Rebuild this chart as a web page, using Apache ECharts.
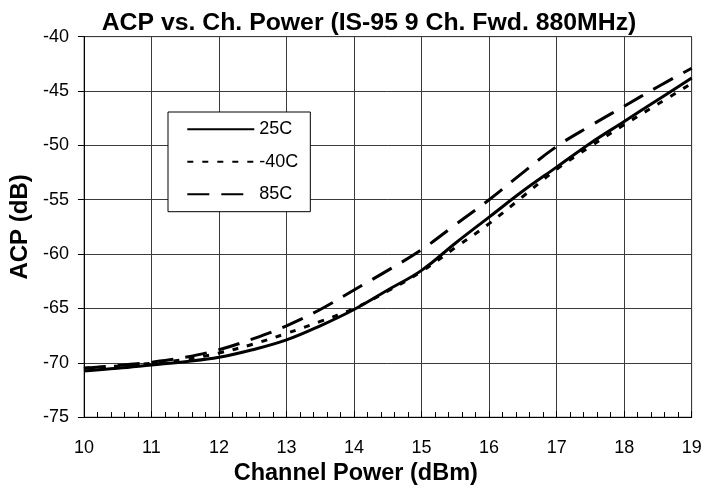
<!DOCTYPE html>
<html>
<head>
<meta charset="utf-8">
<script src="https://cdn.jsdelivr.net/npm/echarts@6/dist/echarts.min.js"></script>
<style>html,body{margin:0;padding:0;background:#fff;}#c{width:722px;height:491px;}</style>
</head>
<body>
<div id="c"></div>
<script>
const power = [10, 10.5, 11, 11.5, 12, 12.5, 13, 13.5, 14, 14.5, 15, 15.5, 16, 16.5, 17, 17.5, 18, 18.5, 19];
const acp25C = [-70.75, -70.5, -70.2, -69.9, -69.5, -68.8, -67.9, -66.6, -65.1, -63.3, -61.5, -59.0, -56.6, -54.2, -52.0, -49.8, -47.8, -45.8, -43.8];
const acpM40C = [-70.5, -70.3, -70.05, -69.7, -69.1, -68.3, -67.3, -66.2, -65.0, -63.4, -61.6, -59.4, -57.2, -54.7, -52.2, -50.1, -48.1, -46.2, -44.3];
const acp85C = [-70.5, -70.25, -69.95, -69.5, -68.8, -67.8, -66.6, -65.1, -63.3, -61.5, -59.6, -57.3, -55.0, -52.5, -50.1, -48.2, -46.4, -44.6, -42.9];
const seriesNames = ['25C', '-40C', '85C'];

const pair = (ys) => power.map((x, i) => [x, ys[i]]);
const font = 'Arial, "Liberation Sans", sans-serif';

const chart = echarts.init(document.getElementById('c'), null, {renderer: 'canvas'});
chart.setOption({
  animation: false,
  backgroundColor: '#fff',
  title: {
    text: 'ACP vs. Ch. Power (IS-95 9 Ch. Fwd. 880MHz)',
    left: 364, top: 6, textAlign: 'center',
    textStyle: {fontFamily: font, fontSize: 24.8, fontWeight: 'bold', color: '#000'}
  },
  grid: {left: 83.3, right: 30.3, top: 36.7, bottom: 73, show: true, borderColor: '#808080', borderWidth: 1, containLabel: false},
  legend: {
    orient: 'vertical', left: 168, top: 112,
    padding: [8.3, 12, 8.4, 18.3],
    itemWidth: 67, itemHeight: 14, itemGap: 14.5,
    borderColor: '#000', borderWidth: 1, backgroundColor: '#fff',
    itemStyle: {opacity: 0},
    textStyle: {fontFamily: font, fontSize: 18, color: '#000'},
    data: seriesNames
  },
  xAxis: {
    type: 'value', min: 10, max: 19, interval: 1,
    name: 'Channel Power (dBm)', nameLocation: 'middle', nameGap: 42,
    nameTextStyle: {fontFamily: font, fontSize: 23.5, fontWeight: 'bold', color: '#000', padding: [0, 64, 0, 0]},
    axisLine: {show: true, onZero: false, lineStyle: {color: '#000', width: 1}},
    axisTick: {show: true, inside: true, length: 6, lineStyle: {color: '#000'}},
    minorTick: {show: true, splitNumber: 5, length: 5, lineStyle: {color: '#000'}},
    axisLabel: {fontFamily: font, fontSize: 18, color: '#000', margin: 22},
    splitLine: {show: true, lineStyle: {color: '#3a3a3a', width: 1}}
  },
  yAxis: {
    type: 'value', min: -75, max: -40, interval: 5,
    name: 'ACP (dB)', nameLocation: 'middle', nameGap: 46,
    nameTextStyle: {fontFamily: font, fontSize: 24, fontWeight: 'bold', color: '#000'},
    axisLine: {show: true, onZero: false, lineStyle: {color: '#000', width: 1}},
    axisTick: {show: true, inside: false, length: 6, lineStyle: {color: '#000'}},
    axisLabel: {fontFamily: font, fontSize: 18, color: '#000', margin: 15},
    splitLine: {show: true, lineStyle: {color: '#3a3a3a', width: 1}}
  },
  series: [
    {name: seriesNames[0], type: 'line', data: pair(acp25C), smooth: 0.4, symbol: 'none',
     lineStyle: {color: '#000', width: 3, type: 'solid'}, itemStyle: {color: '#000'}, z: 3},
    {name: seriesNames[1], type: 'line', data: pair(acpM40C), smooth: 0.4, symbol: 'none',
     lineStyle: {color: '#000', width: 3, type: [6, 9]}, itemStyle: {color: '#000'}, z: 2},
    {name: seriesNames[2], type: 'line', data: pair(acp85C), smooth: 0.4, symbol: 'none',
     lineStyle: {color: '#000', width: 3, type: [22, 12]}, itemStyle: {color: '#000'}, z: 2}
  ]
});
</script>
</body>
</html>
